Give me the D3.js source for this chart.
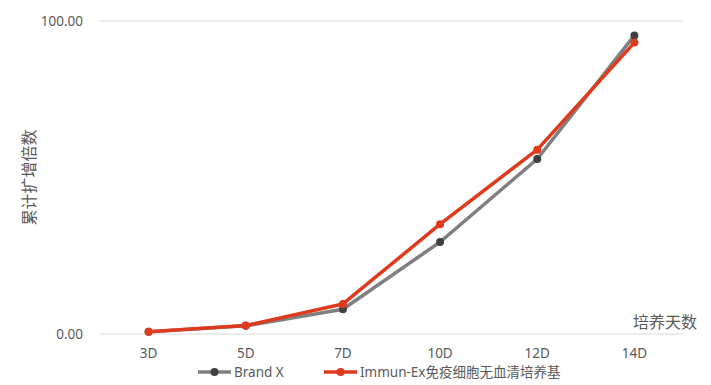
<!DOCTYPE html>
<html>
<head>
<meta charset="utf-8">
<script src="https://cdn.jsdelivr.net/npm/d3@7"></script>
<style>
body { margin: 0; background: #fff; }
text { font-family: "Noto Sans", "Noto Sans CJK SC", sans-serif; fill: #595959; }
</style>
</head>
<body>
<div id="container"></div>
<script>
let w = 711;
let h = 385;

// data
let days = ["3D", "5D", "7D", "10D", "12D", "14D"];
let brandX = [0.7, 2.6, 7.9, 29.4, 55.9, 95.4];
let immunEx = [0.7, 2.7, 9.6, 35.1, 58.9, 93.1];
let yTicks = [0, 100];
let seriesNames = ["Brand X", "Immun-Ex免疫细胞无血清培养基"];

let padLeft = 100, padRight = 683, padTop = 21, padBottom = 334;

let viz = d3.select("#container").append("svg")
    .attr("width", w)
    .attr("height", h)
    .style("background-color", "white");

let x = d3.scaleBand().domain(days).range([padLeft, padRight]);
let y = d3.scaleLinear().domain([0, 100]).range([padBottom, padTop]);

// gridlines
viz.selectAll(".grid").data(yTicks).enter()
    .append("line")
    .attr("x1", padLeft).attr("x2", padRight)
    .attr("y1", d => y(d)).attr("y2", d => y(d))
    .attr("stroke", "#d9d9d9")
    .attr("stroke-width", 1.2);

// y tick labels
viz.selectAll(".ylab").data(yTicks).enter()
    .append("text")
    .attr("x", 83)
    .attr("y", d => y(d) + 4.5)
    .attr("text-anchor", "end")
    .style("font-size", "13.5px")
    .text(d => d3.format(".2f")(d));

// x tick labels
viz.selectAll(".xlab").data(days).enter()
    .append("text")
    .attr("x", d => x(d) + x.bandwidth() / 2)
    .attr("y", 358)
    .attr("text-anchor", "middle")
    .style("font-size", "13.5px")
    .text(d => d);

// axis titles
viz.append("text")
    .attr("transform", "translate(35," + ((padTop + padBottom) / 2) + ") rotate(-90)")
    .attr("text-anchor", "middle")
    .style("font-family", "'Noto Sans CJK SC'")
    .style("font-size", "16px")
    .text("累计扩增倍数");

viz.append("text")
    .attr("x", 697)
    .attr("y", 328)
    .attr("text-anchor", "end")
    .style("font-family", "'Noto Sans CJK SC'")
    .style("font-size", "16px")
    .text("培养天数");

let series = [
    {name: seriesNames[0], values: brandX, line: "#7f7f7f", dot: "#404040"},
    {name: seriesNames[1], values: immunEx, line: "#e03a1e", dot: "#e03a1e"}
];

let lineMaker = d3.line()
    .x((d, i) => x(days[i]) + x.bandwidth() / 2)
    .y(d => y(d));

series.forEach(s => {
    viz.append("path")
        .attr("d", lineMaker(s.values))
        .attr("fill", "none")
        .attr("stroke", s.line)
        .attr("stroke-width", 3.5)
        .attr("stroke-linejoin", "round");
    viz.selectAll(null).data(s.values).enter()
        .append("circle")
        .attr("cx", (d, i) => x(days[i]) + x.bandwidth() / 2)
        .attr("cy", d => y(d))
        .attr("r", 4)
        .attr("fill", s.dot);
});

// legend
let legendX = [198, 324];
series.forEach((s, i) => {
    let g = viz.append("g").attr("transform", "translate(" + legendX[i] + ",372)");
    g.append("line").attr("x1", 0).attr("x2", 33).attr("y1", 0).attr("y2", 0)
        .attr("stroke", s.line).attr("stroke-width", 3.5);
    g.append("circle").attr("cx", 16.5).attr("cy", 0).attr("r", 4).attr("fill", s.dot);
    g.append("text").attr("x", 36).attr("y", 5)
        .style("font-size", "13.5px")
        .style("font-family", "'Noto Sans', 'Noto Sans CJK SC'")
        .text(s.name);
});
</script>
</body>
</html>
